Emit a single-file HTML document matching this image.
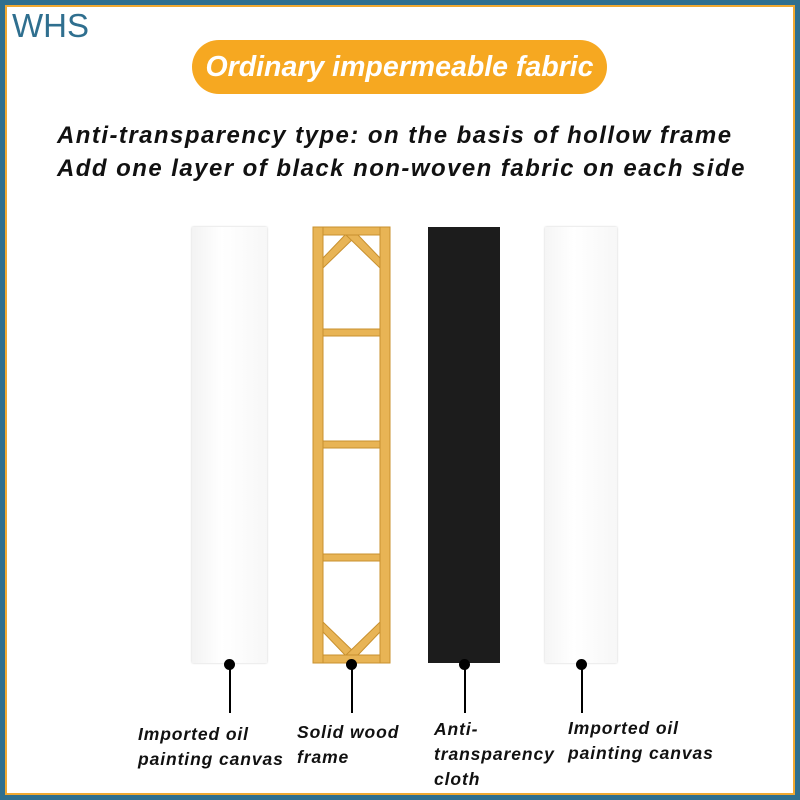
<!DOCTYPE html>
<html><head><style>
body{margin:0;width:800px;height:800px;position:relative;background:#fff;font-family:"Liberation Sans",sans-serif;overflow:hidden}
.b1{position:absolute;left:0;top:0;width:790px;height:790px;border:5px solid #2f6f8f}
.b2{position:absolute;left:5px;top:5px;width:786px;height:786px;border:2px solid #f0a830}
.t{position:absolute;font-weight:bold;font-style:italic;color:#111;white-space:nowrap}
.dot{position:absolute;width:11px;height:11px;border-radius:50%;background:#000}
.ln{position:absolute;width:2px;background:#000}
.lb{position:absolute;font-weight:bold;font-style:italic;font-size:17.5px;line-height:25px;color:#111;letter-spacing:0.9px;white-space:nowrap}
</style></head><body>
<div class="b1"></div><div class="b2"></div>
<div style="position:absolute;left:12px;top:7px;font-size:33px;color:#2f6f8f">WHS</div>
<div style="position:absolute;left:192px;top:40px;width:415px;height:54px;border-radius:27px;background:#f6a821;color:#fff;font-weight:bold;font-style:italic;font-size:28.5px;line-height:54px;text-align:center">Ordinary impermeable fabric</div>
<div class="t" style="left:57px;top:122px;font-size:24px;letter-spacing:1.45px">Anti-transparency type: on the basis of hollow frame</div>
<div class="t" style="left:57px;top:155px;font-size:24px;letter-spacing:1.45px">Add one layer of black non-woven fabric on each side</div>
<div style="position:absolute;left:192px;top:227px;width:75px;height:436px;background:linear-gradient(90deg,#f3f3f3,#fff 40%,#f7f7f7);box-shadow:0 0 2px #ccc"></div>
<div style="position:absolute;left:428px;top:227px;width:72px;height:436px;background:#1c1c1c"></div>
<div style="position:absolute;left:545px;top:227px;width:72px;height:436px;background:linear-gradient(90deg,#f5f5f5,#fff 40%,#f7f7f7);box-shadow:0 0 2px #ccc"></div>
<svg style="position:absolute;left:0;top:0" width="800" height="800">
<g fill="#e8b455" stroke="#c8902e" stroke-width="1">
<rect x="313" y="227" width="77" height="8"/>
<rect x="313" y="655" width="77" height="8"/>
<rect x="313" y="227" width="10" height="436"/>
<rect x="380" y="227" width="10" height="436"/>
<rect x="323" y="329" width="57" height="7"/>
<rect x="323" y="441" width="57" height="7"/>
<rect x="323" y="554" width="57" height="7"/>
<polygon points="323,258 345,235 357,235 323,268"/>
<polygon points="380,258 358,235 346,235 380,268"/>
<polygon points="323,632 345,655 357,655 323,622"/>
<polygon points="380,632 358,655 346,655 380,622"/>
</g></svg>
<div class="dot" style="left:224px;top:659px"></div><div class="ln" style="left:229px;top:665px;height:48px"></div>
<div class="dot" style="left:346px;top:659px"></div><div class="ln" style="left:351px;top:665px;height:48px"></div>
<div class="dot" style="left:459px;top:659px"></div><div class="ln" style="left:464px;top:665px;height:48px"></div>
<div class="dot" style="left:576px;top:659px"></div><div class="ln" style="left:581px;top:665px;height:48px"></div>
<div class="lb" style="left:138px;top:722px">Imported oil<br>painting canvas</div>
<div class="lb" style="left:297px;top:720px">Solid wood<br>frame</div>
<div class="lb" style="left:434px;top:717px">Anti-<br>transparency<br>cloth</div>
<div class="lb" style="left:568px;top:716px">Imported oil<br>painting canvas</div>
</body></html>
